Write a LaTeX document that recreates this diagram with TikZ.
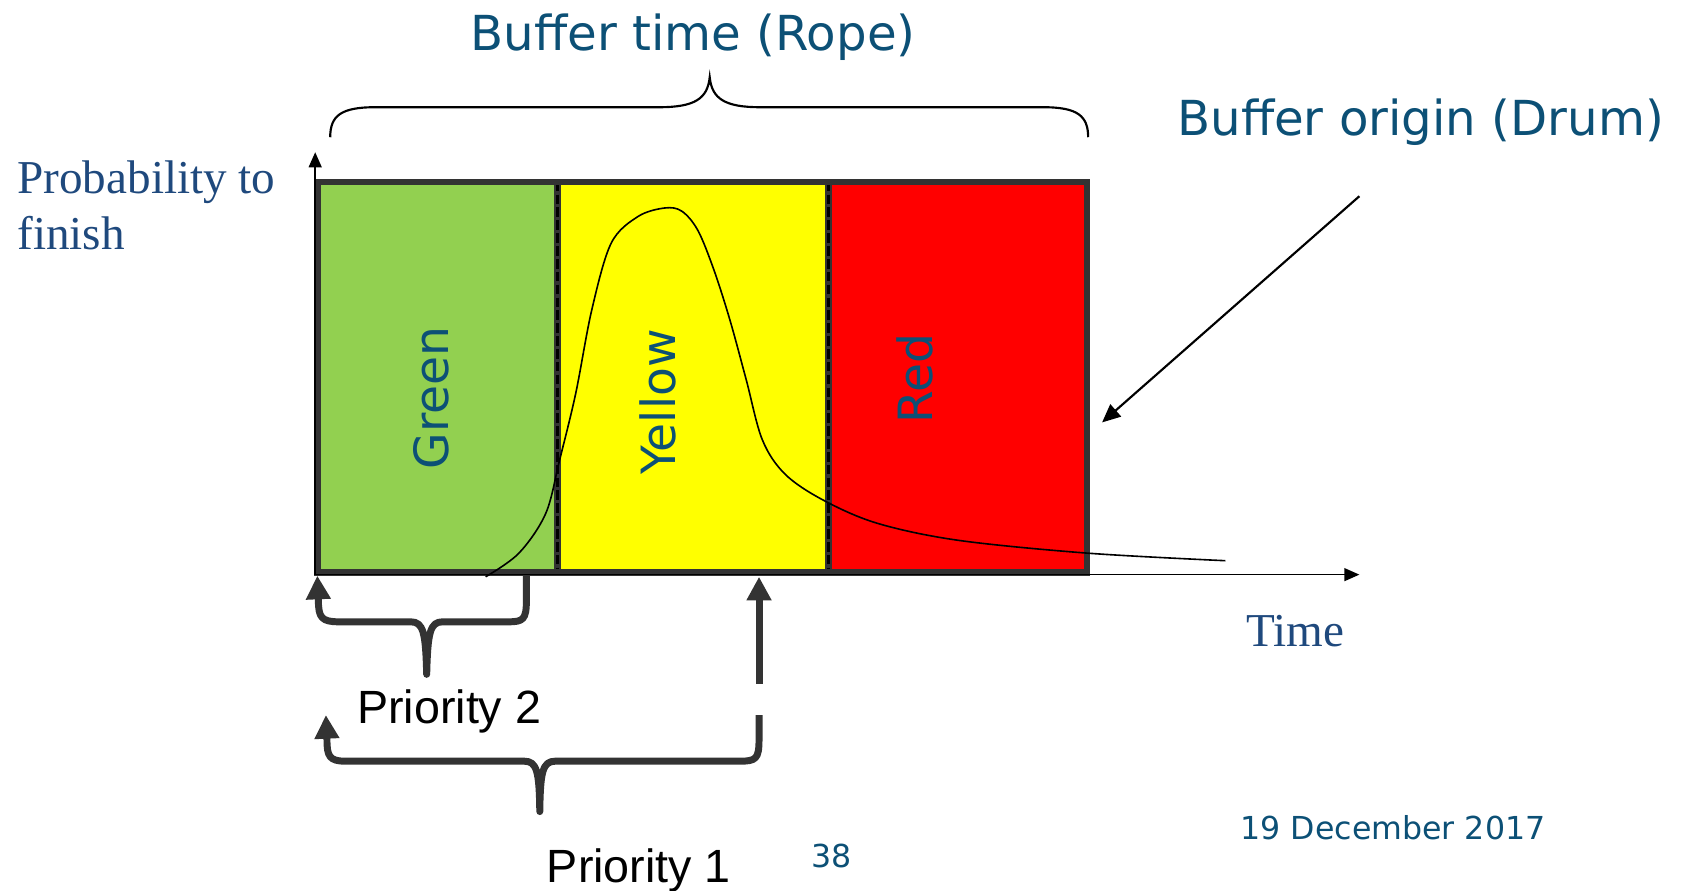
\documentclass[tikz,border=0pt]{standalone}
\usepackage{fontspec}
\setmainfont{Liberation Serif}
\newfontfamily\zonefont{DejaVu Sans}
\newfontfamily\prioritfont{Liberation Sans}
\usetikzlibrary{positioning, arrows.meta}

\definecolor{ropeblue}{RGB}{12,80,118}
\definecolor{axisblue}{RGB}{31,73,125}
\definecolor{framegray}{RGB}{51,51,51}
\definecolor{zonegreen}{RGB}{146,208,80}
\definecolor{zoneyellow}{RGB}{255,255,0}
\definecolor{zonered}{RGB}{255,0,0}

\tikzset{
  zone/.style={inner sep=0pt, outer sep=0pt, minimum height=364.5pt},
  zonelabel/.style={rotate=90, anchor=base, inner sep=0pt, text=ropeblue,
    font=\zonefont\fontsize{44}{52}\selectfont},
  headlabel/.style={inner sep=0pt, text=ropeblue, font=\zonefont\fontsize{45}{54}\selectfont},
  axislabel/.style={inner sep=0pt, text=axisblue, font=\fontsize{44}{52}\selectfont},
  priolabel/.style={inner sep=0pt, text=black, font=\prioritfont\fontsize{43.5}{52}\selectfont},
  footlabel/.style={inner sep=0pt, text=ropeblue, font=\zonefont\fontsize{29.5}{36}\selectfont},
  frame/.style={draw=framegray, line width=6pt},
  divider/.style={draw=framegray, line width=7pt},
  dividerdash/.style={draw=black, line width=2.5pt, dash pattern=on 9pt off 3pt},
  axis/.style={draw=black, line width=1.5pt, -{Triangle[length=14pt,width=12pt]}},
  pointer/.style={draw=black, line width=2pt, -{Triangle[length=17pt,width=15pt]}},
  curve/.style={draw=black, line width=1.5pt},
  topbrace/.style={draw=black, line width=2pt},
  prio/.style={draw=framegray, line width=6.5pt, line join=round},
  prioarrow/.style={prio, -{Triangle[length=22pt,width=22pt]}}
}

\begin{document}
\begin{tikzpicture}[x=1pt, y=-1pt]
\useasboundingbox (0,0) rectangle (1568,831);

% buffer zones
\node[zone, fill=zonegreen, minimum width=224pt] (green) at (408,351.75) {};
\node[zone, fill=zoneyellow, minimum width=253pt, right=0pt of green] (yellow) {};
\node[zone, fill=zonered, minimum width=241pt, right=0pt of yellow] (red) {};

\node[zonelabel] (greentext) at (418,371) {Green};
\node[zonelabel] (yellowtext) at (630,375) {Yellow};
\node[zonelabel] (redtext) at (870,353) {Red};

\foreach \z in {green, yellow} {
  \draw[divider] (\z.north east) -- (\z.south east);
  \draw[dividerdash] (\z.north east) -- (\z.south east);
}
\draw[frame] (green.north west) rectangle (red.south east);

% axes
\coordinate (origin) at (294,536);
\coordinate (ytip) at (294,142);
\coordinate (xtip) at (1268,536);
\draw[axis] (origin) -- (ytip);
\draw[axis] (origin) -- (xtip);

\node[axislabel, anchor=north west, align=left] (ylabel) at (16,150) {Probability to\\finish};
\node[axislabel, anchor=base] (xlabel) at (1208,603) {Time};

% finish curve
\draw[curve] plot[smooth, tension=0.55] coordinates {(453,538) (484,516) (509,479)
  (522,429) (537,367) (552,289) (570,227) (595,202) (620,194) (636,197) (651,215)
  (666,252) (681,299) (696,354) (711,410) (732,442) (767,466) (818,488) (894,504)
  (1015,516) (1143,523)};

% rope
\coordinate (ropetip) at (662,72);
\draw[topbrace] (308,128) .. controls (308,108) and (318,100) .. (350,100) -- (615,100)
  .. controls (648,100) and (660,92) .. (ropetip)
  .. controls (664,92) and (676,100) .. (709,100) -- (973,100)
  .. controls (1005,100) and (1015,108) .. (1015,128);
\node[headlabel, anchor=base] (rope) at (646.5,47) {Buffer time (Rope)};

% drum
\node[headlabel, anchor=base west] (drum) at (1098,126) {Buffer origin (Drum)};
\coordinate (drumstart) at (1268,183);
\coordinate (drumtip) at (1028,394);
\draw[pointer] (drumstart) -- (drumtip);

% priorities
\draw[prioarrow] (491,537) -- (491,560) .. controls (491,578) and (488,580) .. (474,580)
  -- (413,580) .. controls (401,580) and (399,590) .. (398,629)
  .. controls (397,590) and (395,580) .. (383,580) -- (316,580)
  .. controls (300,580) and (297,576) .. (297,560) -- (296,537);
\node[priolabel, anchor=base west] (prio2) at (333,675) {Priority 2};

\draw[prioarrow] (708,638) -- (708,538);
\draw[prioarrow] (708,667) -- (708,690) .. controls (708,708) and (705,710) .. (690,710)
  -- (518,710) .. controls (506,710) and (504,720) .. (503.5,757)
  .. controls (503,720) and (501,710) .. (489,710) -- (322,710)
  .. controls (307,710) and (305,705) .. (305,690) -- (304,667);
\node[priolabel, anchor=base west] (prio1) at (510,823) {Priority 1};

\node[footlabel, anchor=base west] (page) at (757,809) {38};
\node[footlabel, anchor=base west] (date) at (1157,783) {19 December 2017};
\end{tikzpicture}
\end{document}
